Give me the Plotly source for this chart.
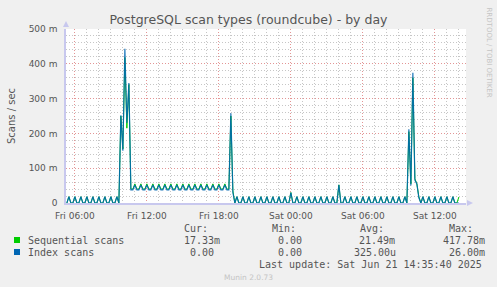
import pandas as pd
import plotly.graph_objects as go

# ---------------- data ----------------
TITLE = "PostgreSQL scan types (roundcube) - by day"
Y_LABEL = "Scans / sec"
SIDE_TEXT = "RRDTOOL / TOBI OETIKER"
START = "2025-06-20 05:20"          # first 10-minute sample
X_RANGE = ["2025-06-20 05:15:40", "2025-06-21 14:35:40"]

# values in milli-scans per second, one sample every 10 minutes
seq_scans_m = [
    0, 18, 0, 0, 18, 0, 0, 18, 0, 0, 18, 0, 0, 18, 0, 0, 18, 0, 0, 18, 0, 0, 18, 0, 0, 18, 0,
    250, 155, 418, 215, 340, 40,
    40, 55, 40, 40, 55, 40, 40, 55, 40, 40, 55, 40, 40, 55, 40, 40, 55, 40, 40, 55, 40, 40, 55, 40,
    40, 55, 40, 40, 55, 40, 40, 55, 40, 40, 55, 40, 40, 55, 40, 40, 55, 40, 40, 55, 40, 40, 55, 40,
    40,
    250, 35,
    0, 18, 0, 0, 18, 0, 0, 18, 0, 0, 18, 0, 0, 18, 0, 0, 18, 0, 0, 18, 0, 0, 18, 0, 0, 18, 0,
    0, 30, 0, 0, 18, 0, 0, 18, 0, 0, 18, 0, 0, 18, 0, 0, 18, 0, 0, 18, 0, 0, 18, 0, 0, 52, 0,
    0, 18, 0, 0, 18, 0, 0, 18, 0, 0, 18, 0, 0, 18, 0, 0, 18, 0, 0, 18, 0, 0, 18, 0, 0, 18, 0,
    0, 18, 0, 0, 18, 0,
    205, 55, 360, 70, 55, 18,
    0, 18, 0, 0, 18, 0, 0, 18, 0, 0, 18, 0, 0, 18, 0, 0, 18, 0,
    0, 17,
]
idx_scans_m = [
    0, 18, 0, 0, 18, 0, 0, 18, 0, 0, 18, 0, 0, 18, 0, 0, 18, 0, 0, 18, 0, 0, 18, 0, 0, 18, 0,
    252, 150, 443, 230, 345, 38,
    38, 52, 38, 38, 52, 38, 38, 52, 38, 38, 52, 38, 38, 52, 38, 38, 52, 38, 38, 52, 38, 38, 52, 38,
    38, 52, 38, 38, 52, 38, 38, 52, 38, 38, 52, 38, 38, 52, 38, 38, 52, 38, 38, 52, 38, 38, 52, 38,
    38,
    258, 30,
    0, 18, 0, 0, 18, 0, 0, 18, 0, 0, 18, 0, 0, 18, 0, 0, 18, 0, 0, 18, 0, 0, 18, 0, 0, 18, 0,
    0, 30, 0, 0, 18, 0, 0, 18, 0, 0, 18, 0, 0, 18, 0, 0, 18, 0, 0, 18, 0, 0, 18, 0, 0, 52, 0,
    0, 18, 0, 0, 18, 0, 0, 18, 0, 0, 18, 0, 0, 18, 0, 0, 18, 0, 0, 18, 0, 0, 18, 0, 0, 18, 0,
    0, 18, 0, 0, 18, 0,
    212, 50, 374, 66, 55, 15,
    0, 18, 0, 0, 18, 0, 0, 18, 0, 0, 18, 0, 0, 18, 0, 0, 18, 0,
    0, 0,
]

series_names = ["Sequential scans", "Index scans"]
series_colors = ["#00CC00", "#0066B3"]
stat_headers = ["Cur:", "Min:", "Avg:", "Max:"]
seq_stats = ["17.33m", "0.00", "21.49m", "417.78m"]
idx_stats = ["0.00", "0.00", "325.00u", "26.00m"]
LAST_UPDATE = "Last update: Sat Jun 21 14:35:40 2025"
MUNIN_VERSION = "Munin 2.0.73"

x_tickvals = ["2025-06-20 06:00", "2025-06-20 12:00", "2025-06-20 18:00",
              "2025-06-21 00:00", "2025-06-21 06:00", "2025-06-21 12:00"]
x_ticktext = ["Fri 06:00", "Fri 12:00", "Fri 18:00", "Sat 00:00", "Sat 06:00", "Sat 12:00"]
y_tickvals = [0, 100, 200, 300, 400, 500]
y_ticktext = ["0", "100 m", "200 m", "300 m", "400 m", "500 m"]

# ---------------- layout geometry ----------------
W, H = 497, 287
L, R, T, B = 66, 31, 29, 84
PW, PH = W - L - R, H - T - B


def px(x):
    return (x - L) / PW


def py(y):
    return (H - B - y) / PH


times = pd.date_range(START, periods=len(idx_scans_m), freq="10min")

fig = go.Figure()
fig.add_trace(go.Scatter(x=times, y=seq_scans_m, mode="lines", name=series_names[0],
                         line=dict(color=series_colors[0], width=1.0), showlegend=False))
fig.add_trace(go.Scatter(x=times, y=idx_scans_m, mode="lines", name=series_names[1],
                         line=dict(color=series_colors[1], width=1.2), opacity=0.88,
                         showlegend=False))

FONT = "DejaVu Sans"
MONO = "DejaVu Sans Mono"
TXT = "#555555"
MAJOR = "rgba(232,140,140,0.85)"
MINOR = "#c6c6c6"
AXIS = "#C8C8EE"
DASH = "1px,2px"

fig.update_layout(
    width=W, height=H,
    margin=dict(l=L, r=R, t=T, b=B),
    paper_bgcolor="#F0F0F0", plot_bgcolor="#FFFFFF",
    font=dict(family=FONT, size=9, color=TXT),
    title=dict(text=TITLE, x=0.5, xref="container", xanchor="center",
               y=1 - 20 / H, yref="container", yanchor="middle",
               font=dict(family=FONT, size=12.5, color=TXT)),
    showlegend=False,
)
fig.update_xaxes(
    type="date", range=X_RANGE,
    tickmode="array", tickvals=x_tickvals, ticktext=x_ticktext,
    showgrid=True, gridcolor=MAJOR, griddash=DASH, gridwidth=1,
    minor=dict(tickmode="linear", tick0="2025-06-20 00:00", dtick=3600000,
               showgrid=True, gridcolor=MINOR, griddash=DASH, gridwidth=1, ticks=""),
    ticks="", ticklabelstandoff=3,
    showline=True, linecolor=AXIS, linewidth=1.5,
    zeroline=False, tickfont=dict(family=FONT, size=9, color=TXT),
)
fig.update_yaxes(
    range=[0, 500], tickmode="array", tickvals=y_tickvals, ticktext=y_ticktext,
    showgrid=True, gridcolor=MAJOR, griddash=DASH, gridwidth=1,
    minor=dict(tickmode="linear", tick0=0, dtick=20,
               showgrid=True, gridcolor=MINOR, griddash=DASH, gridwidth=1, ticks=""),
    ticks="", ticklabelstandoff=5,
    showline=True, linecolor=AXIS, linewidth=1.5,
    zeroline=False, tickfont=dict(family=FONT, size=9, color=TXT),
)

# axis arrows
fig.add_shape(type="path", xref="paper", yref="paper",
              path=f"M {px(63)} {py(27)} L {px(69)} {py(27)} L {px(66)} {py(21)} Z",
              fillcolor=AXIS, line=dict(width=0))
fig.add_shape(type="path", xref="paper", yref="paper",
              path=f"M {px(467)} {py(200)} L {px(467)} {py(206)} L {px(473)} {py(203)} Z",
              fillcolor=AXIS, line=dict(width=0))

ann = []
ann.append(dict(text=Y_LABEL, x=px(11), y=py(116), textangle=-90,
                font=dict(family=FONT, size=10, color=TXT)))
ann.append(dict(text=SIDE_TEXT, x=px(488.5), y=py(53), textangle=90,
                font=dict(family=FONT, size=7, color="#c4c4c4")))

# legend block
header_left = [182, 270, 358, 447]
row_y = [240, 252]
rows_left = [[182, 276, 357, 441], [188, 276, 352, 447]]
for hx, h in zip(header_left, stat_headers):
    ann.append(dict(text=h, x=px(hx), y=py(228), xanchor="left",
                    font=dict(family=MONO, size=10, color=TXT)))
for r, (name, color, stats) in enumerate(zip(series_names, series_colors, [seq_stats, idx_stats])):
    yy = row_y[r]
    fig.add_shape(type="rect", xref="paper", yref="paper",
                  x0=px(14), x1=px(20), y0=py(yy - 3), y1=py(yy + 3),
                  fillcolor=color, line=dict(width=0))
    ann.append(dict(text=name, x=px(26), y=py(yy), xanchor="left",
                    font=dict(family=MONO, size=10, color=TXT)))
    for sx, s in zip(rows_left[r], stats):
        ann.append(dict(text=s, x=px(sx), y=py(yy), xanchor="left",
                        font=dict(family=MONO, size=10, color=TXT)))
ann.append(dict(text=LAST_UPDATE, x=px(484), y=py(264), xanchor="right",
                font=dict(family=MONO, size=10, color=TXT)))
ann.append(dict(text=MUNIN_VERSION, x=px(248), y=py(277), xanchor="center",
                font=dict(family=FONT, size=7.5, color="#c4c4c4")))

for a in ann:
    a.setdefault("xanchor", "center")
    a.update(xref="paper", yref="paper", yanchor="middle", showarrow=False)
fig.update_layout(annotations=ann)

fig.write_html("out.html")
